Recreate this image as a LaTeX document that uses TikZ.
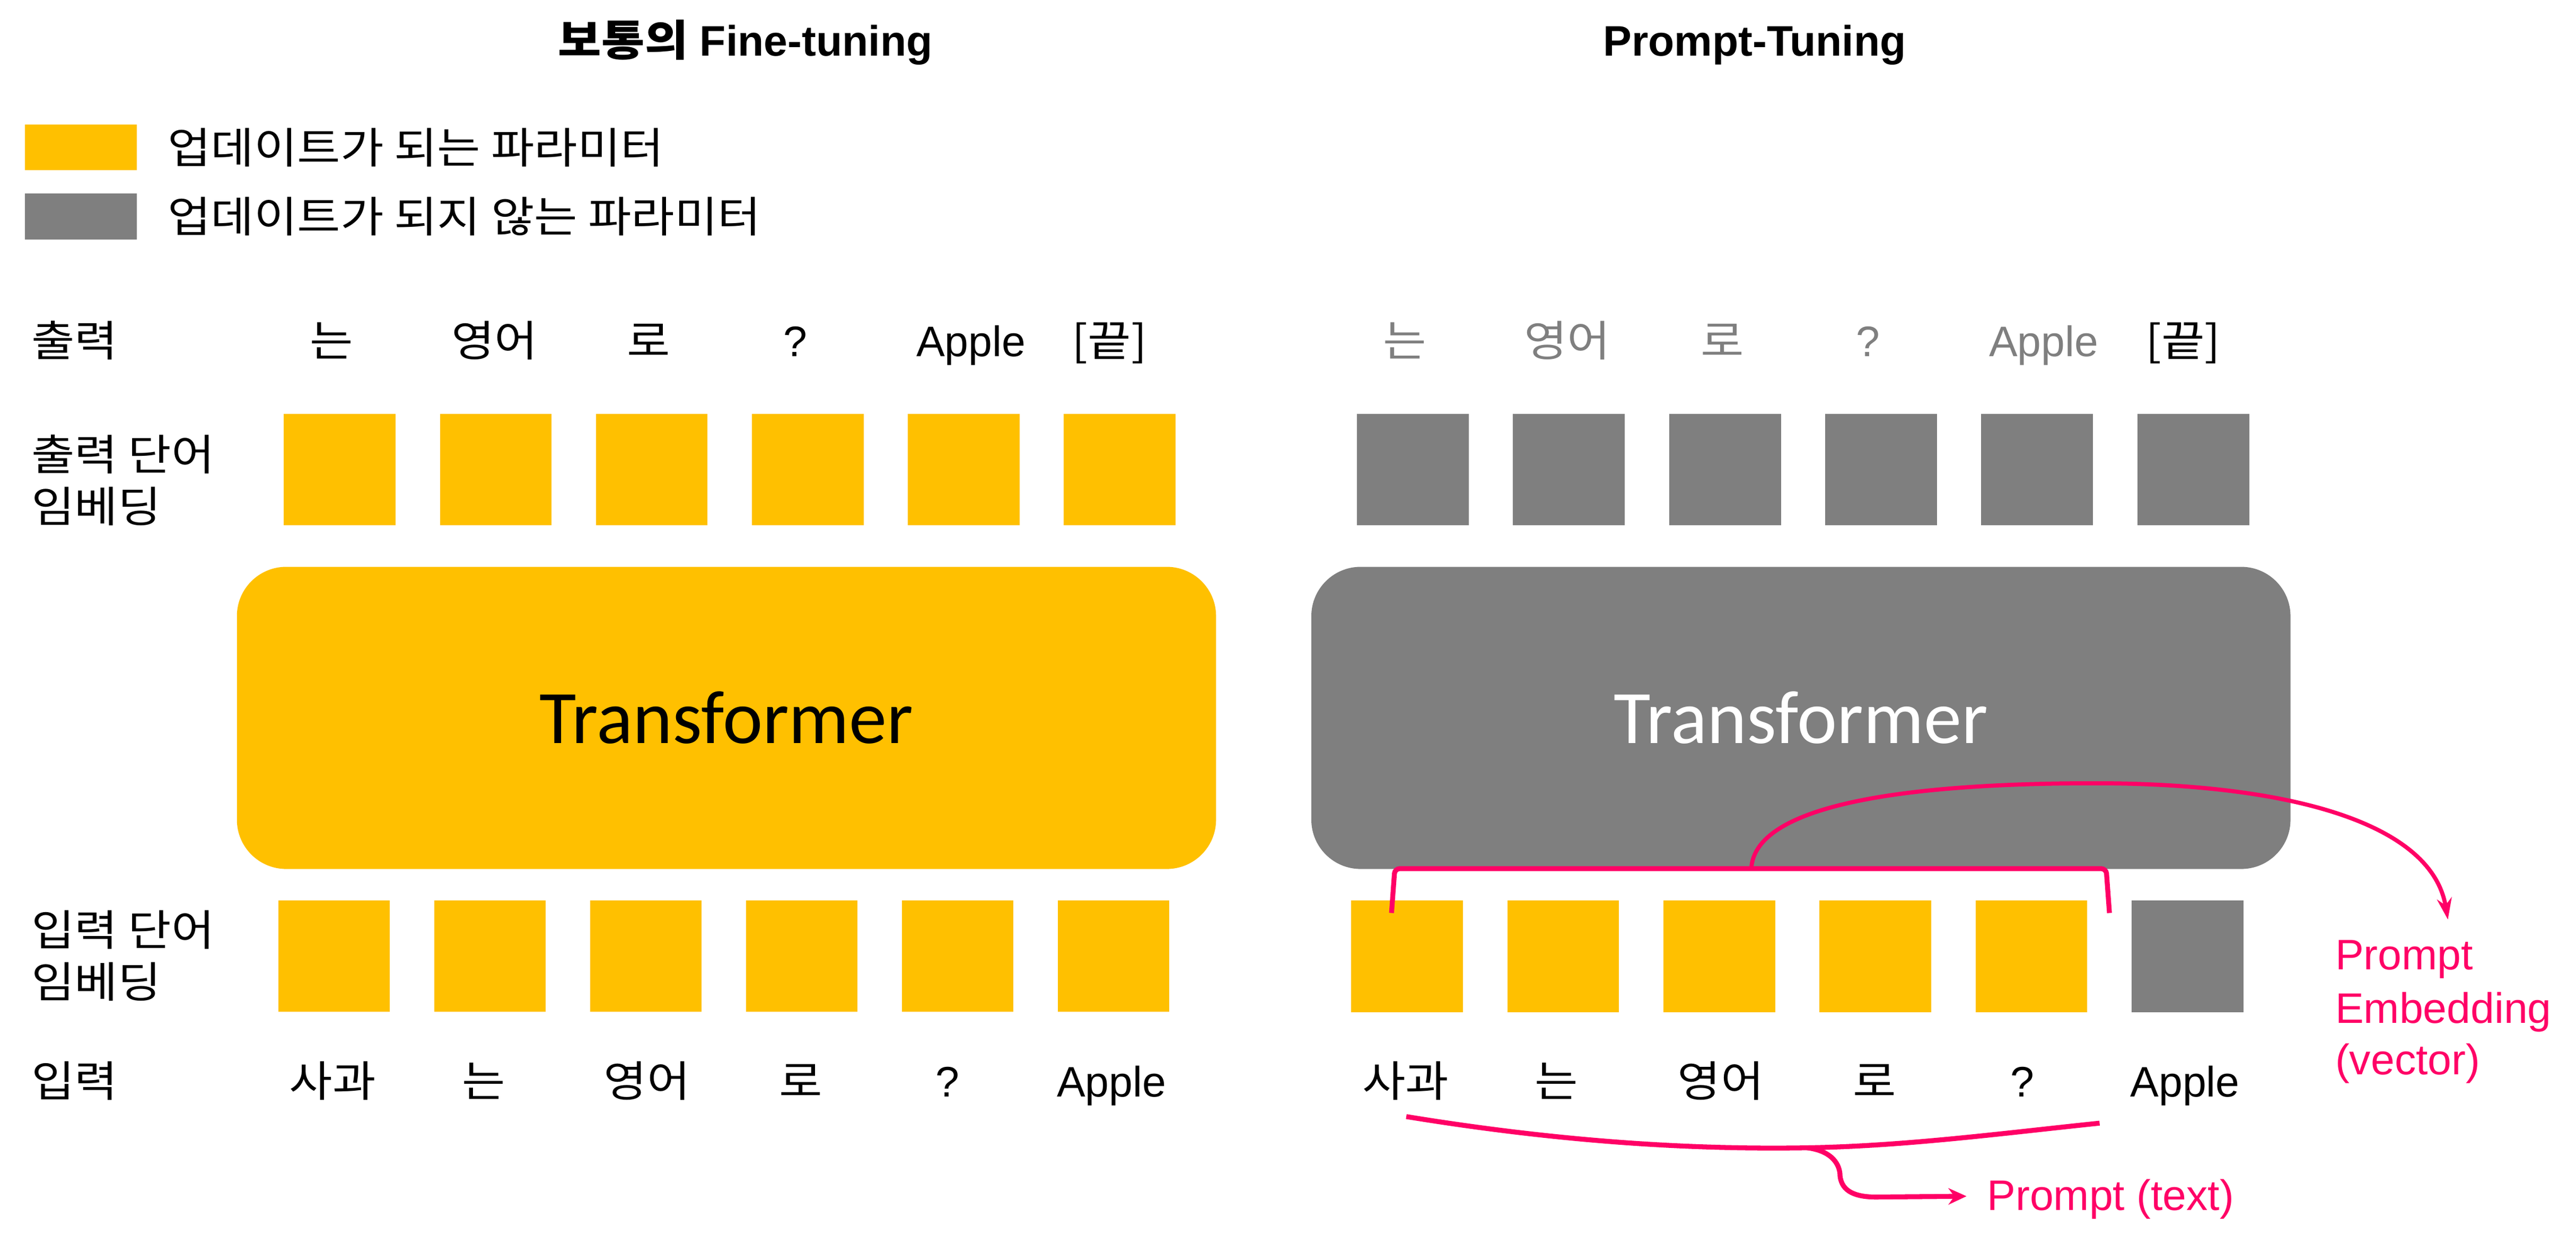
\documentclass[tikz,border=0pt]{standalone}
\usepackage{fontspec}
\setmainfont{Liberation Sans}
\newfontfamily\kr[FakeStretch=1.1]{Noto Sans CJK KR}
\newfontfamily\tf{Carlito}
\usetikzlibrary{arrows.meta}
\definecolor{yc}{HTML}{FFC000}
\definecolor{gc}{HTML}{7F7F7F}
\definecolor{pk}{HTML}{FF0066}
\begin{document}
\begin{tikzpicture}[x=1pt,y=-1pt,
  sq/.style={minimum width=68pt,minimum height=68pt,inner sep=0pt,outer sep=0pt,anchor=north west,draw=none},
  ysq/.style={sq,fill=yc}, gsq/.style={sq,fill=gc},
  lgsq/.style={minimum width=68pt,minimum height=28pt,inner sep=0pt,anchor=north west,draw=none},
  kt/.style={font=\fontsize{26}{32}\selectfont\kr,anchor=base,inner sep=0pt},
  ktl/.style={kt,anchor=base west},
  et/.style={font=\fontsize{26}{32}\selectfont,anchor=base,inner sep=0pt},
  ttl/.style={font=\fontsize{26}{32}\selectfont\bfseries,anchor=base,inner sep=0pt},
  tbox/.style={rounded corners=30pt,minimum width=596pt,minimum height=184pt,inner sep=0pt,anchor=north west,font=\fontsize{46}{52}\selectfont\tf},
  pkt/.style={font=\fontsize{26}{32}\selectfont,text=pk,anchor=base west,inner sep=0pt},
  pline/.style={draw=pk,line width=3pt},
  parc/.style={draw=pk,line width=2.5pt}
]
\useasboundingbox[fill=white] (0,0) rectangle (1568,758.5);

% titles
\node[ttl] (t1) at (453.7,34) {{\kr\bfseries 보통의} Fine-tuning};
\node[ttl] (t2) at (1068,34) {Prompt-Tuning};

% legend
\node[lgsq,fill=yc] (ly) at (15,75.5) {};
\node[lgsq,fill=gc] (lg) at (15,117.6) {};
\node[ktl] (lyt) at (101.8,99.5) {업데이트가 되는 파라미터};
\node[ktl] (lgt) at (101.8,141.5) {업데이트가 되지 않는 파라미터};

% row labels
\node[ktl] (r1) at (18.9,217) {출력};
\node[ktl] (r2a) at (18.9,286.5) {출력 단어};
\node[ktl] (r2b) at (18.9,318) {임베딩};
\node[ktl] (r3a) at (18.9,576) {입력 단어};
\node[ktl] (r3b) at (18.9,607.5) {임베딩};
\node[ktl] (r4) at (18.9,668) {입력};

% left output words
\node[kt] (lo1) at (201.7,217) {는};
\node[kt] (lo2) at (301,217) {영어};
\node[kt] (lo3) at (394.8,217) {로};
\node[et] (lo4) at (484,217) {?};
\node[et] (lo5) at (591,217) {Apple};
\node[kt] (lo6) at (675.4,217) {[끝]};

% left output squares
\foreach \i in {0,...,5} {
  \node[ysq] (los\i) at ({172.8+94.95*\i},252) {};
}

% left transformer
\node[tbox,fill=yc,text=black] (ltr) at (144,345) {Transformer};

% left input squares
\foreach \i in {0,...,5} {
  \node[ysq] (lis\i) at ({169.3+94.9*\i},548.3) {};
}

% left input words
\node[kt] (li1) at (202.4,668) {사과};
\node[kt] (li2) at (294.3,668) {는};
\node[kt] (li3) at (393.8,668) {영어};
\node[kt] (li4) at (487.4,668) {로};
\node[et] (li5) at (576.8,668) {?};
\node[et] (li6) at (676.6,668) {Apple};

% right output words
\node[kt,text=gc] (ro1) at (855,217) {는};
\node[kt,text=gc] (ro2) at (954,217) {영어};
\node[kt,text=gc] (ro3) at (1048.5,217) {로};
\node[et,text=gc] (ro4) at (1137,217) {?};
\node[et,text=gc] (ro5) at (1244,217) {Apple};
\node[kt] (ro6) at (1328.8,217) {[끝]};

% right output squares
\foreach \i in {0,...,5} {
  \node[gsq] (ros\i) at ({826+95*\i},252) {};
}

% right transformer
\node[tbox,fill=gc,text=white] (rtr) at (798,345) {Transformer};

% right input squares
\foreach \i in {0,...,4} {
  \node[ysq] (ris\i) at ({822.5+95*\i},548.5) {};
}
\node[gsq] (ris5) at (1297.5,548.5) {};

% right input words
\node[kt] (ri1) at (855.6,668) {사과};
\node[kt] (ri2) at (947.5,668) {는};
\node[kt] (ri3) at (1047.4,668) {영어};
\node[kt] (ri4) at (1141,668) {로};
\node[et] (ri5) at (1231,668) {?};
\node[et] (ri6) at (1330,668) {Apple};

% prompt labels
\node[pkt] (pe1) at (1421.3,590.5) {Prompt};
\node[pkt] (pe2) at (1421.3,623) {Embedding};
\node[pkt] (pe3) at (1421.3,654.4) {(vector)};
\node[pkt] (ptx) at (1209.4,737) {Prompt (text)};

% bracket over prompt embeddings
\coordinate (bl) at (847,556);
\coordinate (br) at (1284,556);
\coordinate (bm) at (1066,529);
\coordinate (petip) at (1490,560);
\draw[pline,rounded corners=3pt] (bl) -- (849,529) -- (1282,529) -- (br);
\draw[parc,-{Stealth[length=13pt,width=9pt]}] (bm) .. controls (1068,490) and (1160,477) .. (1275,477) .. controls (1390,477) and (1480,500) .. (petip);

% brace under prompt text
\coordinate (cl) at (856,680);
\coordinate (cm) at (1100,699);
\coordinate (cr) at (1278,684);
\coordinate (ptip) at (1197,728.5);
\draw[pline] (cl) .. controls (960,697) and (1040,700) .. (cm) .. controls (1160,698) and (1220,690) .. (cr);
\draw[pline,-{Stealth[length=11pt,width=10pt]}] (cm) .. controls (1116,701) and (1120,710) .. (1120,716) .. controls (1121,726) and (1130,729) .. (1142,729) -- (ptip);
\end{tikzpicture}
\end{document}
